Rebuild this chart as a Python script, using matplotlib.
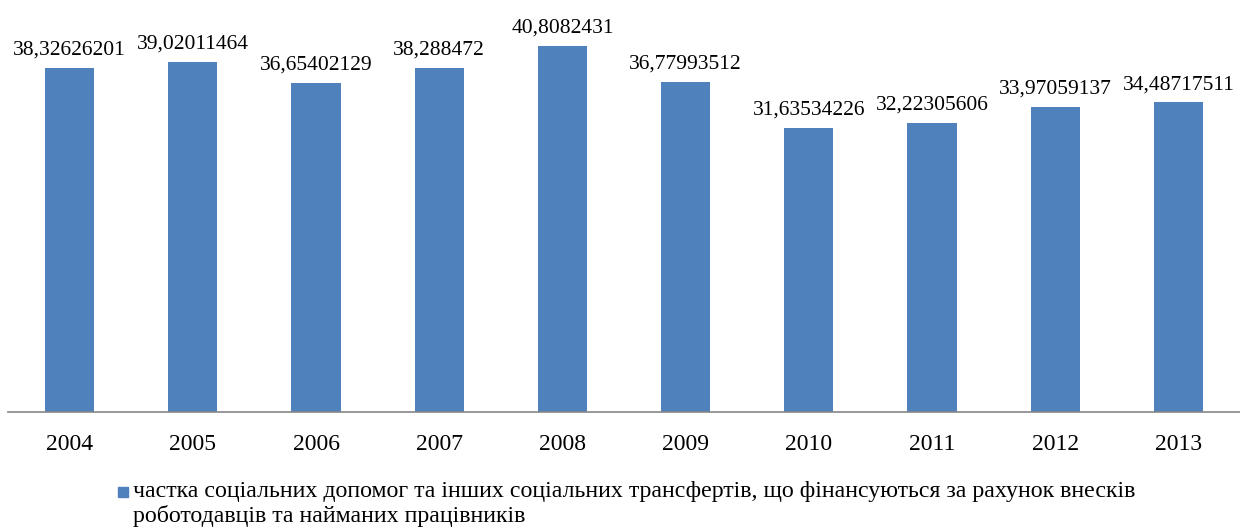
import matplotlib
matplotlib.use("Agg")
import matplotlib.pyplot as plt
from matplotlib.lines import Line2D

years = ["2004", "2005", "2006", "2007", "2008", "2009", "2010", "2011", "2012", "2013"]
values = [38.32626201, 39.02011464, 36.65402129, 38.288472, 40.8082431,
          36.77993512, 31.63534226, 32.22305606, 33.97059137, 34.48717511]
value_labels = ["38,32626201", "39,02011464", "36,65402129", "38,288472", "40,8082431",
                "36,77993512", "31,63534226", "32,22305606", "33,97059137", "34,48717511"]
legend_text = ("частка соціальних допомог та інших соціальних трансфертів, що фінансуються за рахунок внесків\n"
               "роботодавців та найманих працівників")

plt.rcParams['font.family'] = ['Liberation Serif', 'DejaVu Serif']
bar_color = '#4F81BD'

W, H = 1240, 529
fig = plt.figure(figsize=(W / 100, H / 100), dpi=100)
# axes placed in pixel terms: baseline at y=412, 10 slots from x=8 to 1240
ax = fig.add_axes([8 / W, (H - 412) / H, 1232 / W, 402 / H])

x = range(len(years))
bars = ax.bar(x, values, width=0.4, color=bar_color)
ax.set_xlim(-0.5, len(years) - 0.5)
ax.set_ylim(0, 402 / 8.975)

for rect, lab in zip(bars, value_labels):
    ax.annotate(lab, (rect.get_x() + rect.get_width() / 2, rect.get_height()),
                xytext=(0, 6), textcoords='offset points',
                ha='center', va='bottom', fontsize=15.5)

ax.set_xticks(list(x))
ax.set_xticklabels(years, fontsize=17)
ax.tick_params(axis='x', length=0, pad=16)
ax.set_yticks([])
for side in ['top', 'right', 'left']:
    ax.spines[side].set_visible(False)
ax.spines['bottom'].set_color('#868686')
ax.spines['bottom'].set_linewidth(1.2)

# legend: square marker + two-line text
fig.add_artist(Line2D([122.5 / W], [1 - 492 / H], marker='s', markersize=7.5,
                      color=bar_color, linestyle='none', transform=fig.transFigure))
fig.text(133 / W, 1 - 481 / H, legend_text, fontsize=17.2, ha='left', va='top',
         linespacing=1.2)

fig.savefig("out.png", dpi=100)
